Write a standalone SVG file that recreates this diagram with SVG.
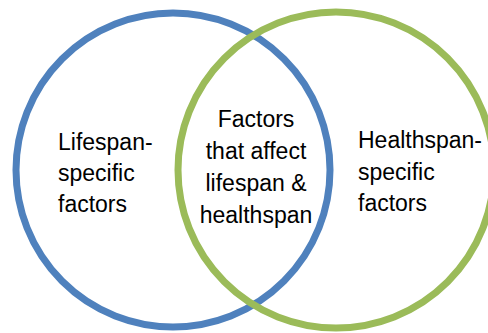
<svg xmlns="http://www.w3.org/2000/svg" width="488" height="333" viewBox="0 0 488 333">
  <style>
    .set { fill: none; stroke-width: 7; }
    .lifespan { stroke: #4F81BD; }
    .healthspan { stroke: #9BBB59; }
    .label { font-family: "Liberation Sans", Arial, sans-serif; font-size: 23px; fill: #000; }
    .mid { text-anchor: middle; }
  </style>
  <rect width="488" height="333" fill="#fff"/>
  <g id="lifespan-set">
    <circle class="set lifespan" cx="173" cy="170" r="157"/>
  </g>
  <g id="healthspan-set">
    <circle class="set healthspan" cx="336" cy="170" r="158"/>
  </g>
  <g id="lifespan-label">
    <text class="label" x="58" y="150">Lifespan-</text>
    <text class="label" x="58" y="181">specific</text>
    <text class="label" x="58" y="212">factors</text>
  </g>
  <g id="shared-label">
    <text class="label mid" x="256" y="127">Factors</text>
    <text class="label mid" x="256" y="159">that affect</text>
    <text class="label mid" x="256" y="191">lifespan &amp;</text>
    <text class="label mid" x="256" y="223">healthspan</text>
  </g>
  <g id="healthspan-label">
    <text class="label" x="358" y="148">Healthspan-</text>
    <text class="label" x="358" y="180">specific</text>
    <text class="label" x="358" y="211">factors</text>
  </g>
</svg>
